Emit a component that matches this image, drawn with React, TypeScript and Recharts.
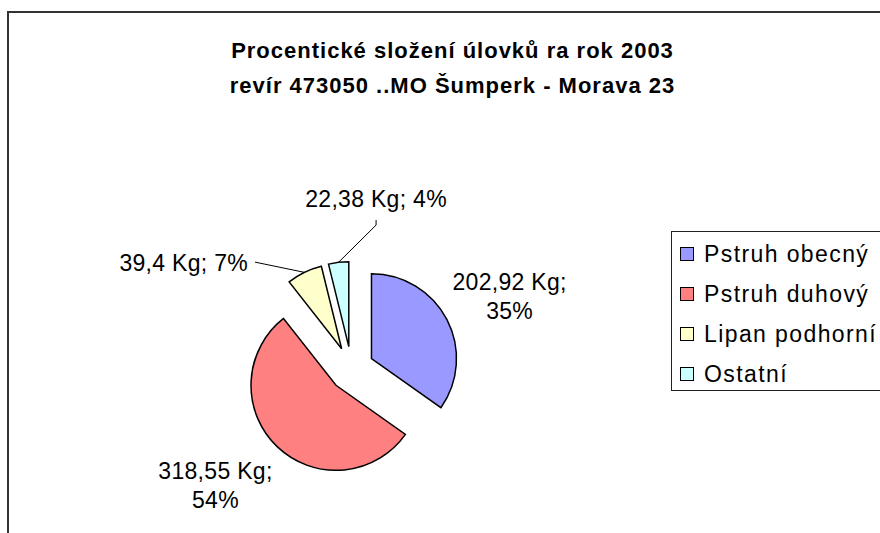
import { PieChart, Pie, Cell, Sector, Legend } from 'recharts'

const species = ['Pstruh obecný', 'Pstruh duhový', 'Lipan podhorní', 'Ostatní']
const catchKg = [202.92, 318.55, 39.4, 22.38]
const percentLabels = [35, 54, 7, 4]
const colors = ['#9999FF', '#FF8080', '#FFFFCC', '#CCFFFF']

const data = species.map((name, i) => ({ name, value: catchKg[i] }))

const FONT = '"Liberation Sans", Arial, sans-serif'
const RAD = Math.PI / 180
const EXPLODE = 22.5

// where each label sits: distance from pie centre and shift from the slice mid angle
const labelPlacement = [
  { dist: 174, shift: -2.7, kind: 'block' },
  { dist: 179, shift: -5.9, kind: 'block' },
  { dist: 144, shift: 16.1, kind: 'left' },
  { dist: 146, shift: -16.6, kind: 'up' }
]

const ExplodedSlice = (props: any) => {
  const { cx, cy, startAngle, endAngle, innerRadius, outerRadius, fill } = props
  const mid = props.midAngle ?? (startAngle + endAngle) / 2
  const dx = EXPLODE * Math.cos(mid * RAD)
  const dy = -EXPLODE * Math.sin(mid * RAD)
  return (
    <Sector
      cx={cx + dx}
      cy={cy + dy}
      startAngle={startAngle}
      endAngle={endAngle}
      innerRadius={innerRadius}
      outerRadius={outerRadius}
      fill={fill}
      stroke='#000'
      strokeWidth={1.5}
    />
  )
}

const renderLabel = (props: any) => {
  const { cx, cy, midAngle, outerRadius, index, value } = props
  const p = labelPlacement[index]
  const a = (midAngle + p.shift) * RAD
  const x = cx + p.dist * Math.cos(a)
  const y = cy - p.dist * Math.sin(a)
  const kg = `${String(value).replace('.', ',')} Kg;`
  const pct = `${percentLabels[index]}%`
  const textStyle = { fontFamily: FONT, fontSize: 23, letterSpacing: 0.3, fill: '#000' }

  if (p.kind === 'block') {
    return (
      <text x={x} y={y - 6} textAnchor='middle' style={textStyle}>
        <tspan x={x}>{kg}</tspan>
        <tspan x={x} dy={29}>{pct}</tspan>
      </text>
    )
  }

  const m = midAngle * RAD
  const sx = cx + (EXPLODE + outerRadius) * Math.cos(m)
  const sy = cy - (EXPLODE + outerRadius) * Math.sin(m)

  if (p.kind === 'left') {
    return (
      <g>
        <polyline points={`${sx},${sy} ${x},${y}`} fill='none' stroke='#000' strokeWidth={1} />
        <text x={x - 7} y={y + 9} textAnchor='end' style={textStyle}>{`${kg} ${pct}`}</text>
      </g>
    )
  }

  return (
    <g>
      <polyline points={`${sx},${sy} ${x},${y} ${x},${y - 5}`} fill='none' stroke='#000' strokeWidth={1} />
      <text x={x} y={y - 18} textAnchor='middle' style={textStyle}>{`${kg} ${pct}`}</text>
    </g>
  )
}

const LegendBox = () => (
  <div
    style={{
      border: '1px solid #222',
      background: '#fff',
      height: 160,
      boxSizing: 'border-box',
      paddingTop: 2,
      fontFamily: FONT,
      fontSize: 23,
      letterSpacing: 1.4
    }}
  >
    {species.map((s, i) => (
      <div key={s} style={{ height: 40, display: 'flex', alignItems: 'center', whiteSpace: 'nowrap' }}>
        <span
          style={{
            display: 'inline-block',
            width: 12,
            height: 12,
            marginLeft: 8,
            marginRight: 10,
            background: colors[i],
            border: '1.5px solid #000'
          }}
        />
        <span>{s}</span>
      </div>
    ))}
  </div>
)

export default function App () {
  return (
    <div style={{ position: 'absolute', left: 0, top: 0, width: 880, height: 533, overflow: 'hidden', background: '#fff' }}>
      <div
        style={{
          position: 'absolute',
          left: 7,
          top: 11,
          width: 900,
          height: 600,
          border: '2px solid #333'
        }}
      />
      <div
        style={{
          position: 'absolute',
          left: 0,
          top: 33,
          width: 905,
          textAlign: 'center',
          fontFamily: FONT,
          fontWeight: 'bold',
          fontSize: 22,
          lineHeight: '35px',
          letterSpacing: 1,
          color: '#000'
        }}
      >
        <div>Procentické složení úlovků ra rok 2003</div>
        <div>revír 473050 ..MO Šumperk - Morava 23</div>
      </div>
      <div style={{ position: 'absolute', left: 0, top: 0 }}>
        <PieChart width={880} height={533} margin={{ top: 0, right: 0, bottom: 0, left: 0 }}>
          <Pie
            data={data}
            dataKey='value'
            nameKey='name'
            cx={351.5}
            cy={369}
            outerRadius={85}
            startAngle={90}
            endAngle={-270}
            stroke='#000'
            strokeWidth={1.5}
            shape={ExplodedSlice}
            label={renderLabel}
            labelLine={false}
            isAnimationActive={false}
          >
            {data.map((d, i) => (
              <Cell key={d.name} fill={colors[i]} />
            ))}
          </Pie>
          <Legend
            layout='vertical'
            verticalAlign='top'
            align='right'
            wrapperStyle={{ position: 'absolute', left: 671, top: 231, width: 220 }}
            content={() => <LegendBox />}
          />
        </PieChart>
      </div>
    </div>
  )
}
